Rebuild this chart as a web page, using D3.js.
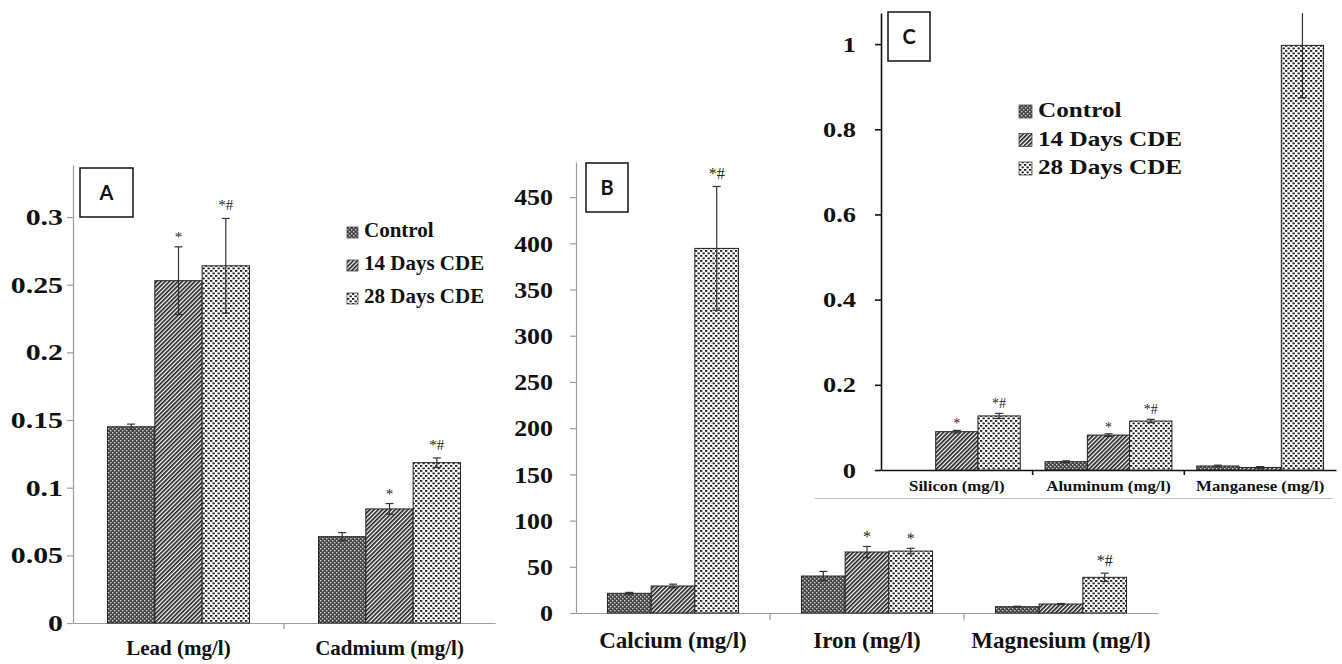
<!DOCTYPE html>
<html>
<head>
<meta charset="utf-8">
<script src="https://cdn.jsdelivr.net/npm/d3@7"></script>
<style>
  body { margin: 0; background: #fff; }
  svg { display: block; }
</style>
</head>
<body>
<svg id="chart" width="1342" height="664"></svg>
<script>
// series shared by all three panels
const series = ["Control", "14 Days CDE", "28 Days CDE"];

// panel A
const catsA = ["Lead (mg/l)", "Cadmium (mg/l)"];
const meansA = [[0.145, 0.253, 0.264], [0.0638, 0.0843, 0.1185]];
const errsA = [[0.002, 0.025, 0.035], [0.003, 0.004, 0.0035]];
const marksA = [["", "*", "*#"], ["", "*", "*#"]];
const ticksA = [0, 0.05, 0.1, 0.15, 0.2, 0.25, 0.3];

// panel B
const catsB = ["Calcium (mg/l)", "Iron (mg/l)", "Magnesium (mg/l)"];
const meansB = [[21.3, 29.2, 394.5], [40, 66, 67], [6.8, 9.7, 38.6]];
const errsB = [[1, 2, 67], [5, 6, 3], [0.5, 0.6, 4.5]];
const marksB = [["", "", "*#"], ["", "*", "*"], ["", "", "*#"]];
const ticksB = [0, 50, 100, 150, 200, 250, 300, 350, 400, 450];

// panel C
const catsC = ["Silicon (mg/l)", "Aluminum (mg/l)", "Manganese (mg/l)"];
const meansC = [[0, 0.09, 0.127], [0.0195, 0.082, 0.115], [0.0094, 0.006, 0.997]];
const errsC = [[0, 0.003, 0.006], [0.002, 0.003, 0.004], [0.002, 0.002, 0.123]];
const marksC = [["", "*", "*#"], ["", "*", "*#"], ["", "", ""]];
const ticksC = [0, 0.2, 0.4, 0.6, 0.8, 1];

const serif = "'Liberation Serif', 'Times New Roman', serif";
const svg = d3.select("#chart");
const defs = svg.append("defs");

// fill patterns (control = dark checker, 14 d = hatching, 28 d = dots)
const pc = defs.append("pattern").attr("id", "pControl")
  .attr("patternUnits", "userSpaceOnUse").attr("width", 4).attr("height", 4);
pc.append("rect").attr("width", 4).attr("height", 4).attr("fill", "#474747");
pc.append("rect").attr("x", 0).attr("y", 0).attr("width", 1.4).attr("height", 1.4).attr("fill", "#d0d0d0");
pc.append("rect").attr("x", 2).attr("y", 2).attr("width", 1.4).attr("height", 1.4).attr("fill", "#d0d0d0");

const p14 = defs.append("pattern").attr("id", "p14")
  .attr("patternUnits", "userSpaceOnUse").attr("width", 3).attr("height", 3)
  .attr("patternTransform", "rotate(45)");
p14.append("rect").attr("width", 3).attr("height", 3).attr("fill", "#fff");
p14.append("rect").attr("width", 1.7).attr("height", 3).attr("fill", "#222");

const p28 = defs.append("pattern").attr("id", "p28")
  .attr("patternUnits", "userSpaceOnUse").attr("width", 5).attr("height", 5);
p28.append("rect").attr("width", 5).attr("height", 5).attr("fill", "#fff");
p28.append("rect").attr("x", 0).attr("y", 0).attr("width", 2.3).attr("height", 1.8).attr("fill", "#1e1e1e");
p28.append("rect").attr("x", 2.5).attr("y", 2.5).attr("width", 2.3).attr("height", 1.8).attr("fill", "#1e1e1e");

const fills = ["url(#pControl)", "url(#p14)", "url(#p28)"];

function drawPanel(p) {
  const g = svg.append("g");
  const x0 = d3.scaleBand().domain(p.cats).range(p.xRange);
  const x1 = d3.scaleBand().domain(d3.range(series.length))
    .range([0, x0.bandwidth()]).paddingOuter(p.outer);
  const y = d3.scaleLinear().domain(p.yDomain).range(p.yRange);
  const yMax = p.yDomain[1];

  // y axis
  const ya = g.append("g").attr("transform", `translate(${p.xRange[0]},0)`)
    .call(d3.axisLeft(y).tickValues(p.ticks).tickSize(6).tickSizeOuter(0)
      .tickFormat(d => String(d)));
  ya.select(".domain").attr("stroke", p.axisColor).attr("stroke-width", p.axisWidth);
  ya.selectAll(".tick line").attr("stroke", p.axisColor).attr("stroke-width", p.axisWidth);
  ya.selectAll(".tick text")
    .attr("font-family", serif).attr("font-weight", "bold")
    .attr("font-size", p.tickFont).attr("fill", "#111")
    .attr("x", -p.tickPad / p.tickStretch)
    .attr("transform", `scale(${p.tickStretch},1)`);

  // x axis
  const xa = g.append("g").attr("transform", `translate(0,${p.yRange[0]})`)
    .call(d3.axisBottom(x0).tickSize(0).tickSizeOuter(0).tickFormat(""));
  xa.select(".domain").attr("stroke", p.axisColor).attr("stroke-width", p.axisWidth);
  g.selectAll("line.sep").data(p.cats.slice(1)).join("line")
    .attr("class", "sep")
    .attr("x1", d => x0(d)).attr("x2", d => x0(d))
    .attr("y1", p.yRange[0]).attr("y2", p.yRange[0] + p.sepTick)
    .attr("stroke", p.axisColor).attr("stroke-width", p.axisWidth);

  // category labels
  g.selectAll("g.cat").data(p.cats).join("g")
    .attr("class", "cat")
    .attr("transform", d => `translate(${x0(d) + x0.bandwidth() / 2},${p.labelY})`)
    .append("text")
    .attr("text-anchor", "middle")
    .attr("transform", `scale(${p.labelStretch},1)`)
    .attr("font-family", serif).attr("font-weight", "bold")
    .attr("font-size", p.labelFont).attr("fill", "#111")
    .text(d => d);

  // bars, error bars, significance marks
  const rows = [];
  p.cats.forEach((c, ci) => {
    series.forEach((s, si) => {
      rows.push({ c, si, v: p.means[ci][si], e: p.errs[ci][si], m: p.marks[ci][si] });
    });
  });
  const bw = x1.bandwidth();
  const cx = d => x0(d.c) + x1(d.si) + bw / 2;

  g.selectAll("rect.bar").data(rows.filter(d => d.v > 0)).join("rect")
    .attr("class", "bar")
    .attr("x", d => x0(d.c) + x1(d.si))
    .attr("y", d => y(d.v))
    .attr("width", bw)
    .attr("height", d => y(0) - y(d.v))
    .attr("fill", d => fills[d.si])
    .attr("stroke", "#222").attr("stroke-width", 1);

  const eb = g.selectAll("g.err").data(rows.filter(d => d.e > 0)).join("g").attr("class", "err");
  eb.append("line")
    .attr("x1", cx).attr("x2", cx)
    .attr("y1", d => y(Math.min(d.v + d.e, yMax)))
    .attr("y2", d => y(d.v - d.e))
    .attr("stroke", "#333").attr("stroke-width", 1.2);
  eb.filter(d => d.v + d.e <= yMax).append("line")
    .attr("x1", d => cx(d) - 4).attr("x2", d => cx(d) + 4)
    .attr("y1", d => y(d.v + d.e)).attr("y2", d => y(d.v + d.e))
    .attr("stroke", "#333").attr("stroke-width", 1.2);
  eb.append("line")
    .attr("x1", d => cx(d) - 4).attr("x2", d => cx(d) + 4)
    .attr("y1", d => y(d.v - d.e)).attr("y2", d => y(d.v - d.e))
    .attr("stroke", "#333").attr("stroke-width", 1.2);

  g.selectAll("text.mark").data(rows.filter(d => d.m)).join("text")
    .attr("class", "mark")
    .attr("x", cx)
    .attr("y", d => y(d.v + d.e) - p.markGap + (d.m === "*" ? 3 : 0))
    .attr("text-anchor", "middle")
    .attr("font-family", serif).attr("font-size", p.markFont).attr("fill", "#222")
    .text(d => d.m);

  // panel letter box
  const b = p.box;
  g.append("rect").attr("x", b.x).attr("y", b.y).attr("width", b.w).attr("height", b.h)
    .attr("fill", "#fff").attr("stroke", "#111").attr("stroke-width", 1.5);
  g.append("text").attr("x", b.x + b.w / 2).attr("y", b.y + b.h / 2 + 7)
    .attr("text-anchor", "middle")
    .attr("font-family", "Lato, 'Open Sans', sans-serif").attr("font-weight", "bold")
    .attr("font-size", 20).attr("fill", "#111")
    .text(p.letter);

  // legend
  if (p.legend) {
    const L = p.legend;
    const lg = g.selectAll("g.leg").data(series).join("g")
      .attr("class", "leg")
      .attr("transform", (d, i) => `translate(${L.x},${L.y + i * L.step})`);
    lg.append("rect").attr("x", 0).attr("y", -L.sw + 1).attr("width", L.sw).attr("height", L.sw)
      .attr("fill", (d, i) => fills[i]).attr("stroke", "#444").attr("stroke-width", 0.8);
    lg.append("text")
      .attr("x", L.tx / L.stretch).attr("y", 0)
      .attr("transform", `scale(${L.stretch},1)`)
      .attr("font-family", serif).attr("font-weight", "bold")
      .attr("font-size", L.font).attr("fill", "#111")
      .text(d => d);
  }
}

drawPanel({
  cats: catsA, means: meansA, errs: errsA, marks: marksA, ticks: ticksA,
  xRange: [73, 495], outer: 0.73,
  yDomain: [0, 0.3385], yRange: [623, 165],
  axisColor: "#9c9c9c", axisWidth: 1.2, sepTick: 6,
  tickFont: 23, tickStretch: 1.3, tickPad: 10,
  labelFont: 21, labelStretch: 1, labelY: 655,
  markFont: 15, markGap: 8,
  box: { x: 80, y: 168, w: 53, h: 49 }, letter: "A",
  legend: { x: 347, y: 237, step: 33, sw: 11, tx: 17, font: 21, stretch: 1 }
});

drawPanel({
  cats: catsB, means: meansB, errs: errsB, marks: marksB, ticks: ticksB,
  xRange: [576, 1158], outer: 0.72,
  yDomain: [0, 488], yRange: [613, 162],
  axisColor: "#9c9c9c", axisWidth: 1.2, sepTick: 7,
  tickFont: 24, tickStretch: 1.08, tickPad: 23,
  labelFont: 23, labelStretch: 1, labelY: 648,
  markFont: 16, markGap: 7,
  box: { x: 586, y: 163, w: 42, h: 49 }, letter: "B",
  legend: null
});

// inset for panel C sits on a white sheet over the top right of B
svg.append("rect").attr("x", 812).attr("y", 0).attr("width", 530).attr("height", 498).attr("fill", "#fff");
svg.append("line").attr("x1", 815).attr("x2", 1333).attr("y1", 498.5).attr("y2", 498.5)
  .attr("stroke", "#bdbdbd").attr("stroke-width", 1);

drawPanel({
  cats: catsC, means: meansC, errs: errsC, marks: marksC, ticks: ticksC,
  xRange: [881, 1336], outer: 0.294,
  yDomain: [0, 1.073], yRange: [470, 13],
  axisColor: "#111", axisWidth: 1.6, sepTick: 5,
  tickFont: 22, tickStretch: 1.2, tickPad: 25,
  labelFont: 15, labelStretch: 1.12, labelY: 491,
  markFont: 14, markGap: 5,
  box: { x: 888, y: 12, w: 42, h: 49 }, letter: "C",
  legend: { x: 1019, y: 117, step: 28.5, sw: 13, tx: 19, font: 21, stretch: 1.2 }
});
</script>
</body>
</html>
